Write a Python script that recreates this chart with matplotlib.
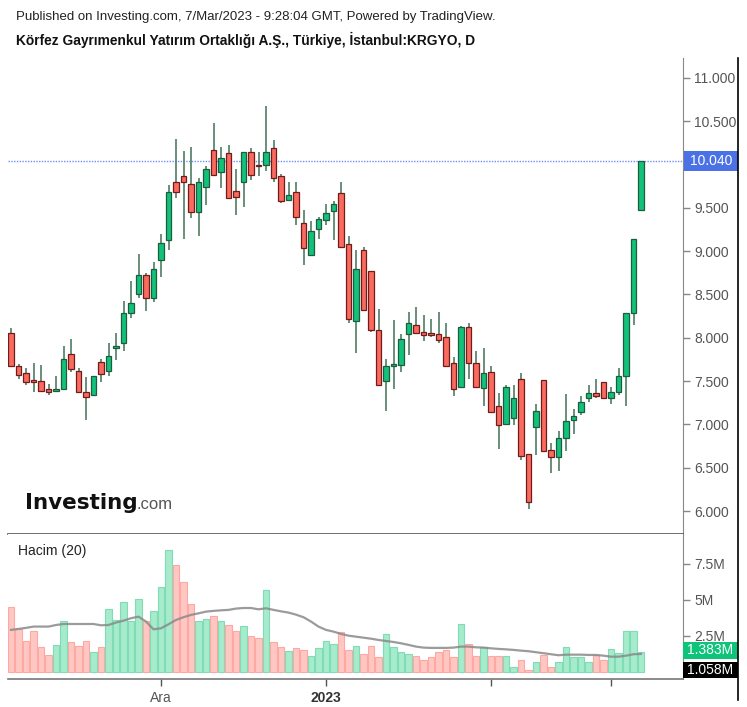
import numpy as np
import matplotlib
matplotlib.use('Agg')
from matplotlib import pyplot as plt
import matplotlib.transforms as mtransforms
from matplotlib.lines import Line2D
from matplotlib.patches import Rectangle

plt.rcParams['font.family'] = ['Liberation Sans', 'DejaVu Sans']

#-------------------------------------
# Data (daily candles)
#-------------------------------------
opens = [8.06, 7.67, 7.59, 7.50, 7.50, 7.41, 7.39, 7.41, 7.81, 7.62,
         7.37, 7.34, 7.72, 7.62, 7.88, 7.94, 8.29, 8.50, 8.73, 8.46,
         8.90, 9.13, 9.80, 9.87, 9.78, 9.45, 9.74, 10.17, 9.91, 10.13,
         9.70, 9.80, 10.15, 10.00, 10.00, 10.19, 9.87, 9.59, 9.68, 9.33,
         8.96, 9.26, 9.36, 9.46, 9.67, 9.08, 8.19, 9.01, 8.77, 8.09,
         7.50, 7.68, 7.69, 8.04, 8.15, 8.07, 8.04, 8.04, 8.01, 7.71,
         7.43, 8.13, 7.71, 7.42, 7.61, 7.21, 7.01, 7.07, 7.53, 6.66,
         6.97, 7.51, 6.71, 6.62, 6.84, 7.05, 7.14, 7.30, 7.36, 7.49,
         7.31, 7.37, 7.56, 8.29, 9.47]
highs = [8.11, 7.70, 7.65, 7.71, 7.69, 7.47, 7.56, 7.91, 7.99, 7.65,
         7.55, 7.56, 7.75, 7.94, 8.05, 8.43, 8.66, 8.97, 8.75, 8.88,
         9.20, 9.76, 10.30, 10.16, 10.20, 9.85, 9.98, 10.48, 10.20, 10.23,
         9.95, 10.15, 10.19, 10.15, 10.68, 10.28, 9.89, 9.80, 9.80, 9.47,
         9.35, 9.39, 9.55, 9.58, 9.80, 9.17, 9.01, 9.05, 8.77, 8.33,
         7.75, 8.20, 8.04, 8.30, 8.36, 8.26, 8.22, 8.30, 8.17, 7.78,
         8.14, 8.17, 7.85, 7.88, 7.67, 7.36, 7.45, 7.46, 7.59, 6.66,
         7.24, 7.51, 6.79, 6.92, 7.35, 7.18, 7.33, 7.45, 7.52, 7.49,
         7.43, 7.65, 8.29, 9.14, 10.04]
lows = [7.67, 7.52, 7.45, 7.37, 7.38, 7.34, 7.38, 7.41, 7.60, 7.37,
        7.05, 7.34, 7.49, 7.56, 7.74, 7.85, 8.23, 8.46, 8.31, 8.41,
        8.70, 9.01, 9.61, 9.14, 9.38, 9.18, 9.53, 9.87, 9.73, 9.61,
        9.42, 9.51, 9.82, 9.87, 9.93, 9.80, 9.56, 9.59, 9.30, 8.84,
        8.96, 9.14, 9.30, 9.13, 9.05, 8.17, 7.83, 8.32, 8.07, 7.46,
        7.15, 7.41, 7.60, 7.80, 8.05, 7.96, 8.01, 7.94, 7.68, 7.33,
        7.43, 7.53, 7.43, 7.21, 7.14, 6.72, 6.99, 6.99, 6.59, 6.02,
        6.65, 6.69, 6.44, 6.46, 6.69, 6.89, 7.11, 7.26, 7.31, 7.31,
        7.24, 7.34, 7.21, 8.15, 9.47]
closes = [7.67, 7.57, 7.49, 7.49, 7.39, 7.37, 7.41, 7.76, 7.64, 7.37,
          7.32, 7.56, 7.58, 7.79, 7.91, 8.29, 8.40, 8.73, 8.46, 8.79,
          9.10, 9.68, 9.68, 9.80, 9.45, 9.80, 9.95, 9.88, 10.07, 9.61,
          9.62, 10.15, 9.88, 9.98, 10.14, 9.85, 9.58, 9.65, 9.39, 9.04,
          9.23, 9.37, 9.44, 9.55, 9.05, 8.22, 8.79, 8.32, 8.09, 7.46,
          7.68, 7.69, 7.99, 8.17, 8.05, 8.03, 8.03, 7.98, 7.68, 7.41,
          8.13, 7.71, 7.43, 7.59, 7.14, 6.99, 7.43, 7.30, 6.64, 6.10,
          7.16, 6.69, 6.62, 6.84, 7.04, 7.10, 7.26, 7.36, 7.33, 7.31,
          7.37, 7.56, 8.29, 9.14, 10.04]

# volume in millions
volumes = [4.49, 2.99, 2.15, 2.85, 1.71, 1.16, 1.88, 3.54, 2.06, 1.81,
           2.15, 1.37, 1.71, 4.38, 3.61, 4.84, 3.56, 5.07, 3.56, 4.24,
           5.93, 8.47, 7.43, 6.23, 4.72, 3.54, 3.68, 3.89, 3.54, 3.26,
           2.85, 3.17, 2.50, 2.34, 5.69, 2.06, 1.71, 1.46, 1.64, 1.53,
           1.11, 1.64, 2.15, 1.94, 2.80, 1.53, 1.81, 1.25, 1.81, 1.02,
           2.64, 1.71, 1.37, 1.25, 1.11, 0.83, 1.02, 1.37, 1.53, 1.02,
           3.33, 1.94, 1.11, 1.71, 1.11, 1.11, 1.11, 0.32, 0.83, 0.14,
           0.72, 1.18, 0.32, 0.72, 1.71, 1.02, 1.02, 0.72, 1.18, 0.83,
           1.60, 1.34, 2.85, 2.85, 1.383]
# 20-day volume average as drawn
vol_ma = [2.92, 2.99, 3.06, 3.15, 3.15, 3.15, 3.26, 3.33, 3.33, 3.33,
          3.33, 3.33, 3.24, 3.26, 3.43, 3.56, 3.73, 3.84, 3.50, 2.96,
          3.03, 3.31, 3.61, 3.80, 3.96, 4.07, 4.19, 4.24, 4.28, 4.31,
          4.40, 4.44, 4.44, 4.35, 4.42, 4.31, 4.21, 4.12, 3.98, 3.80,
          3.50, 3.15, 2.92, 2.80, 2.64, 2.52, 2.45, 2.38, 2.31, 2.22,
          2.15, 2.08, 1.99, 1.88, 1.76, 1.69, 1.67, 1.67, 1.67, 1.69,
          1.76, 1.76, 1.71, 1.69, 1.64, 1.60, 1.57, 1.53, 1.48, 1.44,
          1.37, 1.30, 1.23, 1.16, 1.20, 1.20, 1.20, 1.18, 1.18, 1.13,
          1.06, 1.06, 1.13, 1.23, 1.25]
vol_ma_tag = 1.058

price_ticks = [6.0, 6.5, 7.0, 7.5, 8.0, 8.5, 9.0, 9.5, 10.0, 10.5, 11.0]
vol_ticks = [2.5, 5.0, 7.5]
vol_tick_labels = ['2.5M', '5M', '7.5M']
month_idx = [20, 42, 64, 80]
month_labels = ['Ara', '2023', '', '']

#-------------------------------------
# Figure / axes in pixel layout
#-------------------------------------
W, H = 747, 707
fig = plt.figure(figsize=(W / 100., H / 100.), dpi=100)
fig.patch.set_facecolor('white')

def fx(px):
    return px / float(W)

def fy(py):
    return 1. - py / float(H)

ax = fig.add_axes([fx(8), fy(534), fx(683) - fx(8), fy(58) - fy(534)])
axv = fig.add_axes([fx(8), fy(679), fx(683) - fx(8), fy(534) - fy(679)], sharex=ax)

upColor = '#13c27a'
upEdge = '#1d5c3e'
dnColor = '#fb6a5f'
dnEdge = '#6e1d1a'
wickColor = '#4f7d63'

idx = np.arange(len(closes))
o = np.array(opens)
c = np.array(closes)
up = c >= o
body_lo = np.minimum(o, c)
body_h = np.maximum(np.abs(c - o), 0.02)

ax.vlines(idx, lows, highs, color=wickColor, lw=1.2, zorder=1)
ax.bar(idx, body_h, bottom=body_lo, width=0.72,
       color=np.where(up, upColor, dnColor),
       edgecolor=np.where(up, upEdge, dnEdge), lw=0.9, zorder=2)

ax.axhline(closes[-1], color='#6f8ff2', ls=(0, (1, 1)), lw=1.0, zorder=0)

ax.set_xlim(-0.4, 89.6)
ax.set_ylim(5.735, 11.23)
ax.yaxis.tick_right()
ax.set_yticks(price_ticks)
# the last-price tag hides the label it sits on
ax.set_yticklabels(['' if abs(t - closes[-1]) < 0.15 else '%.3f' % t for t in price_ticks])
ax.tick_params('y', length=5, width=1, color='#888888', labelcolor='#555555',
               labelsize=10, pad=3)
ax.tick_params('x', bottom=False, labelbottom=False)
for s in ['top', 'left']:
    ax.spines[s].set_visible(False)
ax.spines['right'].set_color('#888888')
ax.spines['bottom'].set_color('#555555')
ax.spines['bottom'].set_linewidth(1.2)

# last price tag
trans = mtransforms.blended_transform_factory(ax.transAxes, ax.transData)
ppx = 86.6  # pixels per price unit
tagw = (737. - 683.) / 675.
ax.add_patch(Rectangle((1.0015, closes[-1] - 10. / ppx), tagw, 20. / ppx, transform=trans,
                       fc='#4a72e6', ec='none', clip_on=False, zorder=5))
ax.text(1.0015 + tagw / 2., closes[-1], '%.3f' % closes[-1], transform=trans, ha='center',
        va='center', color='white', fontsize=10, clip_on=False, zorder=6)

#-------------------------------------
# Volume panel
#-------------------------------------
axv.bar(idx, volumes, width=0.92,
        color=np.where(up, '#a6ebcc', '#ffc7c3'),
        edgecolor=np.where(up, '#7fdcb4', '#ffa8a2'), lw=0.8)
axv.plot(idx, vol_ma, color='#8a8a8a', lw=1.6, alpha=0.85)
axv.set_ylim(-0.49, 9.58)
axv.yaxis.tick_right()
axv.set_yticks(vol_ticks)
axv.set_yticklabels(vol_tick_labels)
axv.tick_params('y', length=5, width=1, color='#888888', labelcolor='#555555',
                labelsize=10, pad=3)
axv.set_xticks(month_idx)
axv.set_xticklabels(month_labels)
axv.tick_params('x', length=5, width=1, color='#555555', labelcolor='#555555',
                labelsize=10, pad=4)
axv.get_xticklabels()[1].set_fontweight('bold')
axv.get_xticklabels()[1].set_color('#333333')
for s in ['top', 'left']:
    axv.spines[s].set_visible(False)
axv.spines['right'].set_color('#888888')
axv.spines['bottom'].set_color('#777777')
axv.spines['bottom'].set_linewidth(1.2)

# volume tags (pixel placed, as the chart stacks them)
vtw = fx(738) - fx(683)
fig.add_artist(Rectangle((fx(683), fy(659)), vtw, fy(642) - fy(659), transform=fig.transFigure,
                         fc='#0dc47a', ec='none'))
fig.text(fx(710.5), fy(650.5), '%.3fM' % volumes[-1], ha='center', va='center',
         color='white', fontsize=10)
fig.add_artist(Rectangle((fx(683), fy(678)), vtw, fy(662) - fy(678), transform=fig.transFigure,
                         fc='black', ec='none'))
fig.text(fx(710.5), fy(670), '%.3fM' % vol_ma_tag, ha='center', va='center',
         color='white', fontsize=10)

#-------------------------------------
# Annotations
#-------------------------------------
fig.text(fx(16), fy(17), 'Published on Investing.com, 7/Mar/2023 - 9:28:04 GMT, Powered by TradingView.',
         fontsize=9.5, va='center', color='#222222')
fig.text(fx(16), fy(40), 'Körfez Gayrımenkul Yatırım Ortaklığı A.Ş., Türkiye, İstanbul:KRGYO, D',
         fontsize=9.9, fontweight='bold', va='center', color='#111111')
fig.text(fx(18), fy(551), 'Hacim (20)', fontsize=10, va='center', color='#222222')
fig.text(fx(25), fy(509), 'Investing', fontsize=15.5, fontweight='bold',
         family='DejaVu Sans', va='baseline', color='#111111')
fig.text(fx(137), fy(509), '.com', fontsize=12, va='baseline', color='#555555')

fig.add_artist(Line2D([fx(738), fx(738)], [fy(58), fy(700)], color='black', lw=1.2))

plt.savefig('out.png', dpi=100)
